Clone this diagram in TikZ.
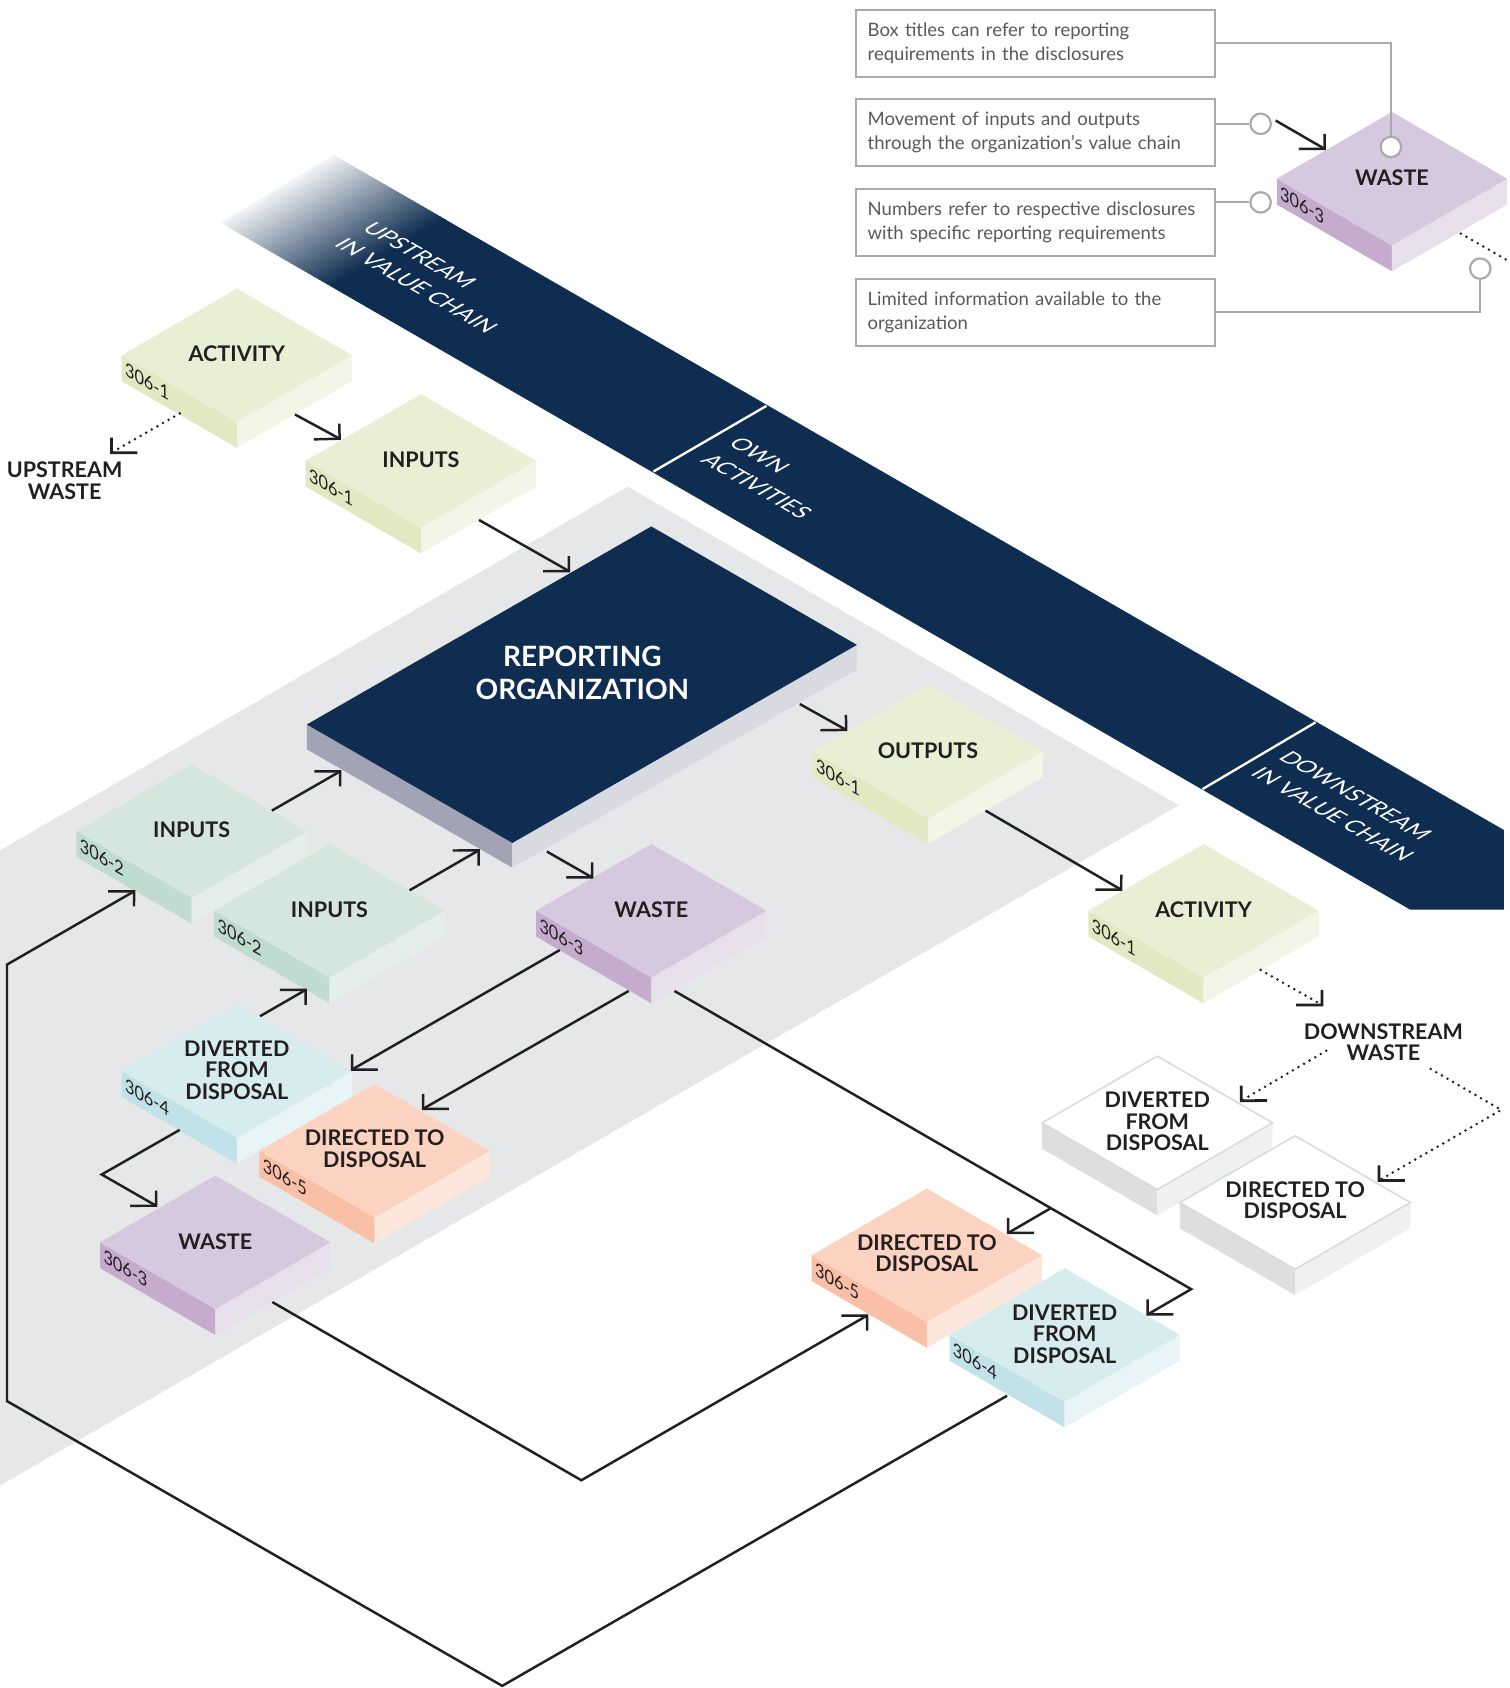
\documentclass[tikz,border=0pt]{standalone}
\usepackage{fontspec}
\setmainfont{Lato}
\usepackage{tikz}

\definecolor{ink}{RGB}{35,31,32}
\definecolor{navy}{RGB}{14,45,80}
\definecolor{zone}{RGB}{230,231,233}
\definecolor{legline}{RGB}{167,169,172}
\definecolor{legtext}{RGB}{88,89,91}
\definecolor{ylT}{RGB}{233,239,213}\definecolor{ylL}{RGB}{224,233,193}\definecolor{ylR}{RGB}{242,246,230}
\definecolor{mnT}{RGB}{212,230,221}\definecolor{mnL}{RGB}{192,220,208}\definecolor{mnR}{RGB}{229,239,234}
\definecolor{lvT}{RGB}{214,200,222}\definecolor{lvL}{RGB}{197,172,205}\definecolor{lvR}{RGB}{231,223,236}
\definecolor{blT}{RGB}{215,236,239}\definecolor{blL}{RGB}{193,226,232}\definecolor{blR}{RGB}{233,244,246}
\definecolor{pcT}{RGB}{252,211,192}\definecolor{pcL}{RGB}{250,192,167}\definecolor{pcR}{RGB}{253,230,219}
\definecolor{wtT}{RGB}{255,255,255}\definecolor{wtL}{RGB}{221,222,224}\definecolor{wtR}{RGB}{239,240,240}
\definecolor{wtE}{RGB}{218,219,220}
\definecolor{orgL}{RGB}{163,163,182}\definecolor{orgR}{RGB}{217,217,226}

% flat isometric arrow heads (long arm on the right / on the left)
\pgfdeclarearrow{
  name=isoR,
  setup code={\pgfarrowssettipend{0pt}\pgfarrowssetlineend{0pt}\pgfarrowssetbackend{-21pt}
    \pgfarrowshullpoint{0pt}{0pt}\pgfarrowshullpoint{-21pt}{-12pt}\pgfarrowshullpoint{-7pt}{12pt}},
  drawing code={\pgfsetdash{}{0pt}\pgfsetmiterjoin\pgfsetbuttcap
    \pgfpathmoveto{\pgfqpoint{-20.8pt}{-12pt}}\pgfpathlineto{\pgfqpoint{0pt}{0pt}}
    \pgfpathlineto{\pgfqpoint{-7pt}{12.1pt}}\pgfusepathqstroke}
}
\pgfdeclarearrow{
  name=isoL,
  setup code={\pgfarrowssettipend{0pt}\pgfarrowssetlineend{0pt}\pgfarrowssetbackend{-21pt}
    \pgfarrowshullpoint{0pt}{0pt}\pgfarrowshullpoint{-21pt}{12pt}\pgfarrowshullpoint{-7pt}{-12pt}},
  drawing code={\pgfsetdash{}{0pt}\pgfsetmiterjoin\pgfsetbuttcap
    \pgfpathmoveto{\pgfqpoint{-20.8pt}{12pt}}\pgfpathlineto{\pgfqpoint{0pt}{0pt}}
    \pgfpathlineto{\pgfqpoint{-7pt}{-12.1pt}}\pgfusepathqstroke}
}

\tikzset{
  flow/.style={draw=ink, line width=2.3pt, line join=miter},
  dotflow/.style={draw=ink, line width=2.6pt, line cap=round, dash pattern=on 0pt off 6pt},
  lbl/.style={font=\bfseries\fontsize{20}{20}\selectfont, text=ink, align=center, inner sep=0pt},
  discl/.style={font=\fontsize{17.5}{17.5}\selectfont, text=ink, inner sep=0pt, anchor=north west,
    cm={0.866,-0.5,0,1,(0,0)}},
  bandtxt/.style={font=\fontsize{21}{30}\selectfont, text=white, align=left, inner sep=0pt,
    cm={0.866,-0.5,0.866,0.5,(0,0)}},
  legbox/.style={draw=legline, line width=2pt, text width=312pt, inner xsep=10.5pt, minimum height=62pt,
    align=left, font=\fontsize{17.2}{21.7}\selectfont, text=legtext},
  legdot/.style={circle, draw=legline, line width=2pt, fill=white, minimum size=19pt, inner sep=0pt},
  legcon/.style={draw=legline, line width=2pt},
}

% centre x, centre y of the top face, colour set, extra options of the top face
\newcommand{\isoblock}[4]{%
  \fill[#3L] (#1,#2) ++(-107,0) -- ++(107,62) -- ++(0,24) -- ++(-107,-62) -- cycle;
  \fill[#3R] (#1,#2) ++(0,62) -- ++(107,-62) -- ++(0,24) -- ++(-107,62) -- cycle;
  \fill[#3T,#4] (#1,#2) ++(0,-62) -- ++(107,62) -- ++(-107,62) -- ++(-107,-62) -- cycle;
}

\begin{document}
\begin{tikzpicture}[x=1pt,y=-1pt]
\useasboundingbox (0,0) rectangle (1402,1568);

% own activities
\fill[zone] (583,452) -- (1095,748) -- (0,1380) -- (0,790) -- cycle;

% value chain band
\foreach \i in {0,...,39}{
  \pgfmathsetmacro\pc{6+94*\i/39}
  \fill[navy!\pc!white] (310+2.6*\i,144+1.5*\i) -- ++(3.5,2) -- ++(-105,63) -- ++(-3.5,-2) -- cycle;
}
\fill[navy] (413.9,204) -- (1397,771) -- (1397,845) -- (1310,845) -- (308.9,267) -- cycle;
\draw[white, line width=2.2pt] (607,438) -- (712,377);
\draw[white, line width=2.2pt] (1117,733) -- (1222,671);

\node[bandtxt] (up) at (400,258) {UPSTREAM\\IN VALUE CHAIN};
\node[bandtxt] (own) at (716,444) {OWN\\ACTIVITIES};
\node[bandtxt] (down) at (1251,749) {DOWNSTREAM\\IN VALUE CHAIN};

% blocks, back to front
\isoblock{1293}{166}{lv}{}
\node[lbl] (wstK) at (1293,165) {WASTE};
\node[discl] (wstKno) at (1189,172) {306-3};

\isoblock{220}{330}{yl}{}
\node[lbl] (actU) at (220,329) {ACTIVITY};
\node[discl] (actUno) at (116,336) {306-1};

\isoblock{391}{428}{yl}{}
\node[lbl] (inpA) at (391,427) {INPUTS};
\node[discl] (inpAno) at (287,434) {306-1};

\fill[orgL] (285,673) -- (476,783) -- (476,806) -- (285,696) -- cycle;
\fill[orgR] (476,783) -- (796,599) -- (796,622) -- (476,806) -- cycle;
\fill[navy] (605,489) -- (796,599) -- (476,783) -- (285,673) -- cycle;
\node[lbl, text=white, font=\bfseries\fontsize{26}{30}\selectfont] (rep) at (541,625) {REPORTING\\ORGANIZATION};

\isoblock{862}{698}{yl}{}
\node[lbl] (outP) at (862,697) {OUTPUTS};
\node[discl] (outPno) at (758,704) {306-1};

\isoblock{178}{772}{mn}{}
\node[lbl] (inpB) at (178,771) {INPUTS};
\node[discl] (inpBno) at (74,778) {306-2};

\isoblock{306}{846}{mn}{}
\node[lbl] (inpC) at (306,845) {INPUTS};
\node[discl] (inpCno) at (202,852) {306-2};

\isoblock{605}{846}{lv}{}
\node[lbl] (wstM) at (605,845) {WASTE};
\node[discl] (wstMno) at (501,852) {306-3};

\isoblock{1118}{846}{yl}{}
\node[lbl] (actD) at (1118,845) {ACTIVITY};
\node[discl] (actDno) at (1014,852) {306-1};

\isoblock{220}{995}{bl}{}
\node[lbl] (divL) at (220,994) {DIVERTED\\FROM\\DISPOSAL};
\node[discl] (divLno) at (116,1001) {306-4};

\isoblock{1075}{1043}{wt}{draw=wtE, line width=1.5pt}
\node[lbl] (divW) at (1075,1042) {DIVERTED\\FROM\\DISPOSAL};

\isoblock{348}{1069}{pc}{}
\node[lbl] (dirL) at (348,1067) {DIRECTED TO\\DISPOSAL};
\node[discl] (dirLno) at (244,1075) {306-5};

\isoblock{1203}{1117}{wt}{draw=wtE, line width=1.5pt}
\node[lbl] (dirW) at (1203,1115) {DIRECTED TO\\DISPOSAL};

\isoblock{200}{1154}{lv}{}
\node[lbl] (wstL) at (200,1153) {WASTE};
\node[discl] (wstLno) at (96,1160) {306-3};

\isoblock{861}{1166}{pc}{}
\node[lbl] (dirR) at (861,1164) {DIRECTED TO\\DISPOSAL};
\node[discl] (dirRno) at (757,1172) {306-5};

\isoblock{989}{1240}{bl}{}
\node[lbl] (divR) at (989,1239) {DIVERTED\\FROM\\DISPOSAL};
\node[discl] (divRno) at (885,1246) {306-4};

\node[lbl] (upW) at (60,446.5) {UPSTREAM\\WASTE};
\node[lbl] (dnW) at (1285,968) {DOWNSTREAM\\WASTE};

% connector ends
\coordinate (actU-se) at (274,385);     \coordinate (inpA-nw) at (315.5,407.5);
\coordinate (actU-sw) at (167,384);     \coordinate (upW-n) at (103.5,420.5);
\coordinate (inpA-se) at (445,483);     \coordinate (rep-nw) at (528.5,530.5);
\coordinate (rep-se) at (743,654);      \coordinate (outP-nw) at (786,678);
\coordinate (outP-se) at (915.5,753);   \coordinate (actD-nw) at (1041.5,826.5);
\coordinate (actD-se) at (1171,901);    \coordinate (dnW-n) at (1228,933.5);
\coordinate (dnW-w) at (1232,976);      \coordinate (divW-ne) at (1153,1022.5);
\coordinate (dnW-e) at (1329,993);      \coordinate (dnW-k) at (1394.5,1031);
\coordinate (dirW-ne) at (1281,1096.5);
\coordinate (inpB-ne) at (252.5,753);   \coordinate (rep-sw) at (316,716.5);
\coordinate (inpC-ne) at (380.5,827);   \coordinate (rep-s) at (444.5,790);
\coordinate (rep-sse) at (508,791);     \coordinate (wstM-nw) at (550,815);
\coordinate (wstM-sw) at (520,882.5);   \coordinate (divL-e) at (327,993.5);
\coordinate (wstM-s) at (584,920.5);    \coordinate (dirL-ne) at (393,1030);
\coordinate (divL-ne) at (241.5,944);   \coordinate (inpC-s) at (284,919.5);
\coordinate (divL-sw) at (167,1049.5);  \coordinate (divL-k) at (94.5,1091);
\coordinate (wstL-nw) at (145,1120);
\coordinate (wstM-se) at (626.5,920.5); \coordinate (wstM-k) at (1106.5,1197.5);
\coordinate (divR-ne) at (1066,1221);   \coordinate (wstM-j) at (976,1122.3);
\coordinate (dirR-ne) at (936.5,1145.3);
\coordinate (wstL-se) at (253,1209.5);  \coordinate (wstL-k) at (540,1375);
\coordinate (dirR-sw) at (805.5,1222);
\coordinate (divR-sw) at (935.5,1296.5); \coordinate (divR-k1) at (466.5,1566);
\coordinate (divR-k2) at (6.5,1301.5);  \coordinate (divR-k3) at (6.5,896);
\coordinate (inpB-sw) at (124.5,828);

\draw[flow,-{isoR}] (actU-se) -- (inpA-nw);
\draw[dotflow,-{isoL}] (actU-sw) -- (upW-n);
\draw[flow,-{isoR}] (inpA-se) -- (rep-nw);
\draw[flow,-{isoR}] (rep-se) -- (outP-nw);
\draw[flow,-{isoR}] (outP-se) -- (actD-nw);
\draw[dotflow,-{isoR}] (actD-se) -- (dnW-n);
\draw[dotflow,-{isoL}] (dnW-w) -- (divW-ne);
\draw[dotflow,-{isoL}] (dnW-e) -- (dnW-k) -- (dirW-ne);
\draw[flow,-{isoL}] (inpB-ne) -- (rep-sw);
\draw[flow,-{isoL}] (inpC-ne) -- (rep-s);
\draw[flow,-{isoR}] (rep-sse) -- (wstM-nw);
\draw[flow,-{isoL}] (wstM-sw) -- (divL-e);
\draw[flow,-{isoL}] (wstM-s) -- (dirL-ne);
\draw[flow,-{isoL}] (divL-ne) -- (inpC-s);
\draw[flow,-{isoR}] (divL-sw) -- (divL-k) -- (wstL-nw);
\draw[flow,-{isoL}] (wstM-se) -- (wstM-k) -- (divR-ne);
\draw[flow,-{isoL}] (wstM-j) -- (dirR-ne);
\draw[flow,-{isoL}] (wstL-se) -- (wstL-k) -- (dirR-sw);
\draw[flow,-{isoL}] (divR-sw) -- (divR-k1) -- (divR-k2) -- (divR-k3) -- (inpB-sw);

% legend
\node[legbox] (box1) at (962,40.3) {Box titles can refer to reporting\\requirements in the disclosures};
\node[legbox] (box2) at (962,123) {Movement of inputs and outputs\\through the organization’s value chain};
\node[legbox] (box3) at (962,206.6) {Numbers refer to respective disclosures\\with specific reporting requirements};
\node[legbox] (box4) at (962,290.2) {Limited information available to the\\organization};

\node[legdot] (c1) at (1171,115) {};
\node[legdot] (c2) at (1171,188) {};
\node[legdot] (c3) at (1292,136.5) {};
\node[legdot] (c4) at (1375,249.5) {};

\draw[legcon] (box1.east) -| (c3);
\draw[legcon] (c1 -| box2.east) -- (c1);
\draw[legcon] (c2 -| box3.east) -- (c2);
\draw[legcon] (box4.east) -| (c4);

\coordinate (leg-a) at (1185,112);     \coordinate (wstK-nw) at (1230.5,138.3);
\coordinate (wstK-se) at (1357,217);   \coordinate (leg-end) at (1404,244);
\draw[flow,-{isoR}] (leg-a) -- (wstK-nw);
\draw[dotflow] (wstK-se) -- (leg-end);

\end{tikzpicture}
\end{document}
